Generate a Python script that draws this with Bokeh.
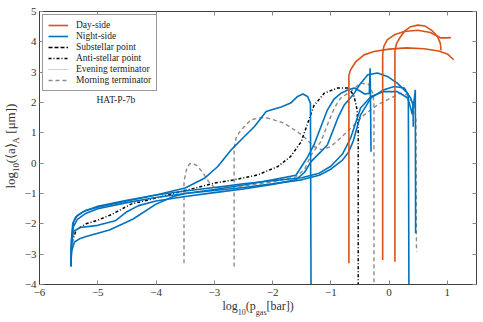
import math
from bokeh.plotting import figure
from bokeh.models import Range1d, FixedTicker, LinearAxis, Legend, LegendItem, Label
from bokeh.embed import file_html
from bokeh.resources import INLINE

NAN = float("nan")

# ---------------- data (log10 p_gas [bar], log10 <a>_A [um]) ----------------
day1_p = [-0.69, -0.69, -0.66, -0.57, -0.43, -0.26, 0.0, 0.3, 0.6, 0.85, 1.0, 1.11]
day1_a = [-3.3, 2.9, 3.08, 3.35, 3.57, 3.68, 3.76, 3.8, 3.77, 3.7, 3.6, 3.41]
day2_p = [-0.11, -0.11, -0.09, -0.03, 0.09, 0.26, 0.49, 0.71, 0.83, 0.88, 0.89]
day2_a = [-3.19, 3.6, 3.85, 4.07, 4.23, 4.34, 4.38, 4.31, 4.18, 3.95, 3.72]
day3_p = [0.10, 0.10, 0.13, 0.19, 0.27, 0.37, 0.49, 0.62, 0.73, 0.82, 0.88, 0.97, 1.06]
day3_a = [-3.25, 3.7, 3.96, 4.15, 4.36, 4.5, 4.55, 4.52, 4.38, 4.2, 4.13, 4.13, 4.14]

night1_p = [-5.46, -5.45, -5.43, -5.38, -5.25, -5.0, -4.5, -4.0, -3.5, -3.17, -2.94, -2.71, -2.51,
            -2.31, -2.11, -2.0, -1.85, -1.69, -1.57, -1.48, -1.4, -1.35, -1.34]
night1_a = [-3.4, -2.5, -2.0, -1.78, -1.6, -1.42, -1.22, -1.05, -0.82, -0.5, -0.11, 0.44, 0.83,
            1.21, 1.7, 1.77, 1.85, 1.98, 2.2, 2.28, 2.2, 1.98, -4.0]
night2_p = [-5.46, -5.45, -5.42, -5.35, -5.2, -5.0, -4.5, -4.0, -3.5, -3.0, -2.5, -2.0, -1.6, -1.5,
            -1.4, -1.29, -1.17, -1.06, -0.95, -0.83, -0.7, -0.6, -0.5, -0.42, -0.34, -0.325, -0.31]
night2_a = [-3.4, -2.6, -2.1, -1.85, -1.65, -1.5, -1.3, -1.13, -1.0, -0.87, -0.72, -0.55, -0.4, -0.1,
            0.2, 0.6, 1.2, 1.75, 2.1, 2.3, 2.42, 2.48, 2.38, 2.28, 2.3, 3.13, 0.38]
night3_p = [-5.46, -5.45, -5.42, -5.3, -5.0, -4.7, -4.5, -4.3, -4.0, -3.5, -3.0, -2.5, -2.0, -1.6,
            -1.45, -1.34, -1.17, -1.06, -0.97, -0.88, -0.77, -0.6, -0.5, -0.37, -0.2, -0.03, 0.14,
            0.29, 0.37, 0.41, 0.415]
night3_a = [-3.4, -2.7, -2.25, -2.12, -2.05, -1.9, -1.6, -1.4, -1.25, -1.1, -0.97, -0.85, -0.7, -0.55,
            -0.3, 0.05, 0.38, 0.6, 1.04, 1.49, 1.92, 2.3, 2.6, 2.91, 2.97, 2.86, 2.64,
            2.36, 2.15, 1.92, 1.2]
night4_p = [-5.46, -5.45, -5.4, -5.3, -5.2, -4.8, -4.4, -4.0, -3.7, -3.5, -3.0, -2.5, -2.0, -1.5,
            -1.2, -1.0, -0.8, -0.7, -0.62, -0.49, -0.31, -0.09, 0.09, 0.26, 0.33, 0.34]
night4_a = [-3.4, -2.9, -2.6, -2.48, -2.42, -2.2, -1.85, -1.35, -1.1, -1.0, -0.9, -0.8, -0.68, -0.55,
            -0.4, -0.2, 0.1, 0.35, 0.7, 1.59, 2.15, 2.42, 2.53, 2.48, 2.25, -4.0]
night5_p = [-5.46, -5.45, -5.42, -5.35, -5.2, -5.0, -4.5, -4.0, -3.5, -3.0, -2.5, -2.0, -1.5, -1.2,
            -1.0, -0.8, -0.66, -0.49, -0.31, -0.09, 0.14, 0.32, 0.37, 0.40, 0.45, 0.455]
night5_a = [-3.4, -2.55, -1.95, -1.72, -1.55, -1.45, -1.25, -1.05, -0.92, -0.8, -0.68, -0.58, -0.48,
            -0.33, -0.1, 0.3, 0.83, 1.82, 2.2, 2.36, 2.36, 2.15, 1.82, 1.6, 2.42, -2.31]

anti_p = [-5.44, -5.37, -5.2, -5.0, -4.77, -4.43, -4.0, -3.5, -3.0, -2.66, -2.26, -1.91, -1.69, -1.51,
          -1.4, -1.29, -1.11, -0.88, -0.69, -0.6, -0.55, -0.53, -0.53]
anti_a = [-2.6, -2.2, -2.0, -1.88, -1.7, -1.35, -1.15, -0.9, -0.66, -0.55, -0.39, -0.11, 0.22, 0.7,
          1.3, 1.9, 2.31, 2.48, 2.48, 2.2, 1.76, 1.0, -4.0]

morn1_p = [-3.52, -3.52, -3.47, -3.42, -3.37, -3.3, -3.2, -3.1, -3.0, -2.5, -2.0, -1.6, -1.45, -1.34,
           -1.17, -1.06, -0.94, -0.83, -0.66, -0.49, -0.35, -0.28, -0.26, -0.26]
morn1_a = [-3.3, -0.6, -0.15, -0.02, 0.0, -0.08, -0.3, -0.6, -0.8, -0.75, -0.62, -0.45, -0.2, 0.27,
           0.71, 1.26, 1.82, 2.15, 2.36, 2.64, 2.6, 2.3, 2.0, -4.0]
morn2_p = [-2.66, -2.66, -2.62, -2.54, -2.37, -2.2, -2.09, -1.8, -1.51, -1.29, -1.15, -1.0, -0.85,
           -0.66, -0.43, -0.2, 0.03, 0.2, 0.31, 0.43, 0.46, 0.47]
morn2_a = [-3.41, 0.5, 0.88, 1.1, 1.43, 1.5, 1.49, 1.32, 0.95, 0.55, 0.44, 0.55, 0.8,
           1.15, 1.59, 1.92, 2.15, 2.31, 2.25, 1.92, 1.5, -2.92]

# substellar point and evening terminator profiles are not visible (hidden under other curves)
sub_p, sub_a = [NAN], [NAN]
eve_p, eve_a = [NAN], [NAN]

x_ticks = [-6, -5, -4, -3, -2, -1, 0, 1]
y_ticks = [-4, -3, -2, -1, 0, 1, 2, 3, 4, 5]
legend_labels = ["Day-side", "Night-side", "Substellar point", "Anti-stellar point",
                 "Evening terminator", "Morning terminator"]
planet = "HAT-P-7b"
# axis titles split into (text, is_subscript) pieces
xlabel_parts = [("log", False), ("10", True), ("(p", False), ("gas", True), ("[bar])", False)]
ylabel_parts = [("log", False), ("10", True), ("(\u27e8a\u27e9", False), ("A", True), ("\u00a0[\u03bcm])", False)]

# ---------------- styling ----------------
ORANGE = "#D95319"
BLUE = "#0072BD"
GRAY = "#8C8C8C"
FONT = "Liberation Serif"
AXC = "#404040"
TXT = "#333333"
X0, X1, Y0, Y1 = -6.0, 1.5, -4.0, 5.0
FW, FH = 437, 273
BL, BT = 38, 11

p = figure(frame_width=FW, frame_height=FH, output_backend="svg", toolbar_location=None,
           x_range=Range1d(X0, X1), y_range=Range1d(Y0, Y1),
           min_border_left=BL, min_border_right=4, min_border_top=BT, min_border_bottom=30)
p.background_fill_color = "white"
p.border_fill_color = "white"
p.outline_line_color = AXC
p.grid.visible = False

minus = lambda v: str(v).replace("-", "\u2212")
for ax, ticks in ((p.xaxis[0], x_ticks), (p.yaxis[0], y_ticks)):
    ax.ticker = FixedTicker(ticks=ticks)
    ax.major_label_overrides = {t: minus(t) for t in ticks}
    ax.major_label_text_font = FONT
    ax.major_label_text_font_size = "11px"
    ax.major_label_text_color = TXT
    ax.major_tick_in = 4
    ax.major_tick_out = 0
    ax.minor_tick_line_color = None
    ax.major_tick_line_color = "#888888"
    ax.axis_line_color = AXC
    ax.major_label_standoff = 4
p.yaxis[0].major_label_standoff = 3

top = LinearAxis(ticker=FixedTicker(ticks=x_ticks), major_label_text_color=None,
                 major_tick_in=4, major_tick_out=0, minor_tick_line_color=None,
                 major_tick_line_color="#888888", axis_line_color=AXC, major_label_standoff=0)
right = LinearAxis(ticker=FixedTicker(ticks=y_ticks), major_label_text_color=None,
                   major_tick_in=4, major_tick_out=0, minor_tick_line_color=None,
                   major_tick_line_color="#888888", axis_line_color=AXC, major_label_standoff=0)
p.add_layout(top, "above")
p.add_layout(right, "right")

LW = 1.6
r_sub = p.line(sub_p, sub_a, line_color="black", line_width=1.6, line_dash="4 2")
r_eve = p.line(eve_p, eve_a, line_color="#A0A0A0", line_width=1.0, line_dash="1 1")
r_morn = [p.line(x, y, line_color=GRAY, line_width=1.4, line_dash="4 3")
          for x, y in ((morn1_p, morn1_a), (morn2_p, morn2_a))]
r_anti = p.line(anti_p, anti_a, line_color="black", line_width=1.5, line_dash="3 2 1 2")
r_night = [p.line(x, y, line_color=BLUE, line_width=LW)
           for x, y in ((night1_p, night1_a), (night2_p, night2_a), (night3_p, night3_a),
                        (night4_p, night4_a), (night5_p, night5_a))]
r_day = [p.line(x, y, line_color=ORANGE, line_width=LW)
         for x, y in ((day1_p, day1_a), (day2_p, day2_a), (day3_p, day3_a))]

legend = Legend(items=[
    LegendItem(label=legend_labels[0], renderers=[r_day[0]]),
    LegendItem(label=legend_labels[1], renderers=[r_night[0]]),
    LegendItem(label=legend_labels[2], renderers=[r_sub]),
    LegendItem(label=legend_labels[3], renderers=[r_anti]),
    LegendItem(label=legend_labels[4], renderers=[r_eve]),
    LegendItem(label=legend_labels[5], renderers=[r_morn[0]]),
], location="top_left")
legend.label_text_font = FONT
legend.label_text_font_size = "9.5px"
legend.label_text_color = "#222222"
legend.glyph_width = 20
legend.glyph_height = 10
legend.label_height = 10
legend.label_standoff = 8
legend.spacing = 1
legend.padding = 5
legend.margin = 3
legend.border_line_color = "#333333"
legend.border_line_width = 1
p.add_layout(legend)

p.add_layout(Label(x=-4.69, y=2.09, text=planet, text_align="center", text_baseline="middle",
                   text_font=FONT, text_font_size="9.5px", text_color="#222222"))

# ---------------- axis titles with subscripts, drawn as label-only axes ----------------
WID = {'l': .278, 'o': .5, 'g': .5, '1': .5, '0': .5, '(': .333, ')': .333, 'p': .5, 'a': .444,
       's': .389, '[': .333, ']': .333, 'b': .5, 'r': .333, '\u27e8': .35, '\u27e9': .35, 'A': .722,
       ' ': .25, '\u00a0': .25, '\u03bc': .576, 'm': .778}


def tw(s, size):
    return sum(WID.get(c, .5) for c in s) * size


def label_axes(parts, start_px, px_per_unit, origin, main_size, sub_size):
    """Return {tick: text} dicts for main and subscript pieces, centred on their run positions."""
    main, sub = {}, {}
    pos = start_px
    for text, is_sub in parts:
        w = tw(text, sub_size if is_sub else main_size)
        centre = origin + (pos + w / 2) / px_per_unit
        (sub if is_sub else main)[round(centre, 4)] = text
        pos += w
    return main, sub


def text_axis(labels, size, standoff, vertical=False):
    ax = LinearAxis(ticker=FixedTicker(ticks=list(labels.keys()), minor_ticks=[]),
                    major_label_overrides=labels, major_label_text_font=FONT,
                    major_label_text_font_size=f"{size}px", major_label_text_color=TXT,
                    major_label_standoff=standoff, axis_line_color=None, major_tick_line_color=None,
                    minor_tick_line_color=None, major_tick_in=0, major_tick_out=0)
    if vertical:
        ax.major_label_orientation = "vertical"
    return ax


XPU = FW / (X1 - X0)
YPU = FH / (Y1 - Y0)
xm, xs = label_axes(xlabel_parts, 183, XPU, X0, 12, 8)
ym, ys = label_axes(ylabel_parts, 96, YPU, Y0, 13, 9)

p.add_layout(text_axis(xm, 12, 0), "below")
p.add_layout(text_axis(xs, 8, -8), "below")
p.add_layout(text_axis(ys, 9, 0, vertical=True), "left")
p.add_layout(text_axis(ym, 13, -10, vertical=True), "left")

open("out.html", "w").write(file_html(p, INLINE))
